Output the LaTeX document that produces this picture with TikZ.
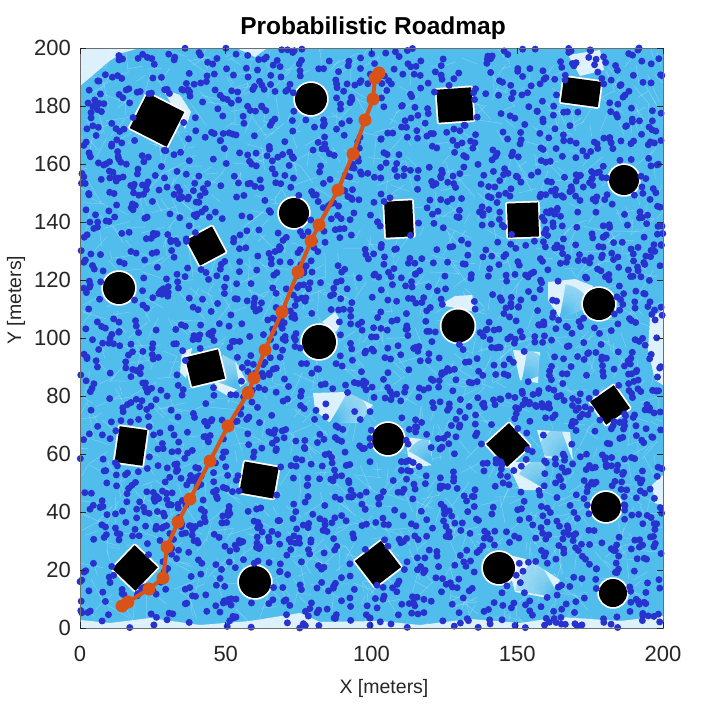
\documentclass[tikz,border=0pt]{standalone}
\usepackage{fontspec}
\setmainfont{Liberation Sans}
\definecolor{edgeblue}{RGB}{80,189,237}
\definecolor{dotblue}{RGB}{40,50,206}
\definecolor{pathorange}{RGB}{217,83,25}
\definecolor{axgray}{RGB}{38,38,38}
\definecolor{boxgray}{RGB}{110,110,110}
\newcommand\obsR[5]{%
  \begin{scope}[shift={(#1,#2)},rotate=-#5]
    \draw[obshalo] (-#3/2,-#4/2) rectangle (#3/2,#4/2);
    \fill[black] (-#3/2,-#4/2) rectangle (#3/2,#4/2);
  \end{scope}}
\newcommand\obsC[3]{%
  \draw[obshalo] (#1,#2) circle (#3);
  \fill[black] (#1,#2) circle (#3);}
\newcommand\fan[5]{% apex x, apex y, from angle, to angle, length
  \foreach \fa in {#3,...,#4}{\draw[edgeblue,opacity=0.55,line width=0.5] (#1,#2) -- ++(\fa:#5);}}
\begin{document}
\begin{tikzpicture}[x=1pt,y=-1pt,
  obshalo/.style={white,line width=3.5,line join=round},
  gap/.style={fill=white,opacity=0.8},
  ticklab/.style={text=axgray,font=\fontsize{22}{26}\selectfont,inner sep=0pt},
  axlab/.style={text=axgray,font=\fontsize{19.5}{23}\selectfont,inner sep=0pt},
  marker/.style={fill=pathorange}]
\useasboundingbox[fill=white] (0,0) rectangle (716,705);
% roadmap edges (dense mesh)
\fill[edgeblue] (80,48) rectangle (663,628);
\begin{scope}
\clip (80,48) rectangle (663,628);
\pgfmathsetseed{977}
\foreach \i in {1,...,1400}{%
  \pgfmathsetmacro\ax{80+583*rnd}%
  \pgfmathsetmacro\ay{48+580*rnd}%
  \pgfmathsetmacro\an{360*rnd}%
  \pgfmathsetmacro\ln{8+22*rnd}%
  \draw[white,opacity=0.28,line width=0.5] (\ax,\ay) -- ++(\an:\ln);}
% edge-free gaps
\fill[gap] (80,48) -- (80,86) -- (92,76) -- (108,62) -- (122,53) -- (140,48) -- cycle;
\fill[gap] (237,48) -- (267,48) -- (255,57) -- cycle;
\fill[gap] (568,55) -- (600,50) -- (604,70) -- (580,76) -- cycle;
\fill[gap] (163,89) -- (180,95) -- (191,112) -- (185,129) -- cycle;
\fill[gap] (223,355) -- (236,362) -- (247,382) -- (228,396) -- (214,388) -- cycle;
\fill[gap] (182,352) -- (192,348) -- (186,378) -- (180,372) -- cycle;
\fill[gap] (505,554) -- (530,560) -- (560,580) -- (548,598) -- (515,592) -- cycle;
\fill[gap] (440,305) -- (455,296) -- (472,295) -- (476,312) -- cycle;
\fill[gap] (548,282) -- (575,279) -- (593,286) -- (582,310) -- (560,318) -- (548,300) -- cycle;
\fill[gap] (513,350) -- (540,352) -- (538,383) -- (520,380) -- cycle;
\fill[gap] (537,430) -- (570,432) -- (573,460) -- (545,458) -- cycle;
\fill[gap] (405,437) -- (430,440) -- (433,465) -- (410,468) -- cycle;
\fill[gap] (507,462) -- (545,462) -- (547,490) -- (520,490) -- cycle;
\fill[gap] (313,393) -- (347,392) -- (373,405) -- (360,423) -- (330,423) -- (315,410) -- cycle;
\fill[gap] (322,322) -- (335,312) -- (342,322) -- (336,332) -- cycle;
\fill[gap] (663,310) -- (650,318) -- (648,350) -- (655,380) -- (663,385) -- cycle;
\fill[gap] (663,475) -- (652,485) -- (655,503) -- (663,505) -- cycle;
\fill[gap] (80,628) -- (80,620) -- (110,623) -- (150,618) -- (200,625) -- (250,621) -- (300,613) -- (320,622) -- (380,621) -- (420,625) -- (470,619) -- (520,623) -- (560,617) -- (620,621) -- (663,616) -- (663,628) -- cycle;
% radial fans of edges across the gaps
\fan{240}{390}{-160}{-100}{38}
\fan{560}{598}{-170}{-120}{45}
\fan{522}{382}{-80}{-20}{32}
\fan{572}{460}{-170}{-110}{36}
\fan{547}{490}{-150}{-90}{32}
\fan{330}{423}{-60}{0}{40}
\fan{433}{465}{-150}{-100}{28}
\fan{560}{318}{-80}{-20}{34}
\end{scope}
% obstacles
\obsR{157}{120}{41.5}{39}{27}
\obsC{311}{99}{16}
\obsR{455}{105}{35}{33}{-4}
\obsR{581}{92}{37.5}{25.5}{7.7}
\obsC{624}{180}{15}
\obsR{523}{220}{31}{34}{-2}
\obsC{294}{213}{15}
\obsR{399}{219}{28}{36}{-3}
\obsR{206}{246}{29}{29}{-28}
\obsC{119}{288}{16}
\obsC{599}{304}{16}
\obsC{458}{326}{16.5}
\obsC{319}{342}{17}
\obsR{205}{368}{34}{30}{-13.6}
\obsR{610}{405}{28}{29}{55}
\obsR{131}{446}{28}{36}{8}
\obsC{388}{439}{16}
\obsR{508}{445}{31}{31}{47.6}
\obsR{259}{480}{34.5}{31.5}{10}
\obsC{606}{507}{15}
\obsR{135}{568}{32}{32.5}{43.7}
\obsC{255}{582}{16}
\obsR{378}{564}{33}{33}{52.4}
\obsC{499}{568}{16}
\obsC{613}{593}{14}
% roadmap nodes
\def\exclist{311/99/18,624/180/17,294/213/17,119/288/18,599/304/18,458/326/18,319/342/19,388/439/18,606/507/17,255/582/18,499/568/18,613/593/16,157/120/24,455/105/20,581/92/19,523/220/18,399/219/19,206/246/17,205/368/19,610/405/17,131/446/19,508/445/18,259/480/19,135/568/19,378/564/19,70/38/48,178/108/9,232/376/10,535/578/13,457/305/8,570/298/12,527/366/10,555/445/11,420/452/10,527/476/11,340/408/14}
\pgfmathsetseed{4711}
\foreach \i in {1,...,2800}{%
  \pgfmathsetmacro\px{80+583*rnd}%
  \pgfmathsetmacro\py{48+580*rnd}%
  \gdef\okflag{1}%
  \foreach \cx/\cy/\rr in \exclist {%
    \pgfmathtruncatemacro\hit{veclen(\px-\cx,\py-\cy)<\rr}%
    \ifnum\hit=1 \gdef\okflag{0}\fi}%
  \ifnum\okflag=1 \fill[dotblue] (\px,\py) circle (3.5);\fi
}
% shortest path
\foreach \x/\y [count=\k] in {122/606,128/602,149/589,163/578,167/547,178/522,190/499,210/461,228/426,248/393,254/378,265/350,282/312,298/272,311/241,319/225,338/190,353/154,365/120,373/99,375/78,379/73}
  {\coordinate (p\k) at (\x,\y);}
\draw[pathorange,line width=4,line join=round] (p1) \foreach \k in {2,...,22}{ -- (p\k)};
\foreach \k in {1,...,22}{\fill[marker] (p\k) circle (6.5);}
% axes
\draw[boxgray,line width=1] (80,48) rectangle (663,628);
\foreach \v in {0,50,100,150,200}{%
  \pgfmathsetmacro\tx{80+2.915*\v}%
  \draw[axgray,line width=0.8] (\tx,628) -- (\tx,622) (\tx,48) -- (\tx,54);
  \node[ticklab,anchor=north] (xt\v) at (\tx,646) {\v};}
\foreach \v in {0,20,...,200}{%
  \pgfmathsetmacro\ty{628-2.9*\v}%
  \draw[axgray,line width=0.8] (80,\ty) -- (86,\ty) (663,\ty) -- (657,\ty);
  \node[ticklab,anchor=east] (yt\v) at (71,\ty) {\v};}
\node[axlab] (xlabel) at (384,688) {X [meters]};
\node[axlab,rotate=90] (ylabel) at (16,300) {Y [meters]};
\node[font=\bfseries\fontsize{24.5}{28}\selectfont,inner sep=0pt] (title) at (373,28) {Probabilistic Roadmap};
\end{tikzpicture}
\end{document}
